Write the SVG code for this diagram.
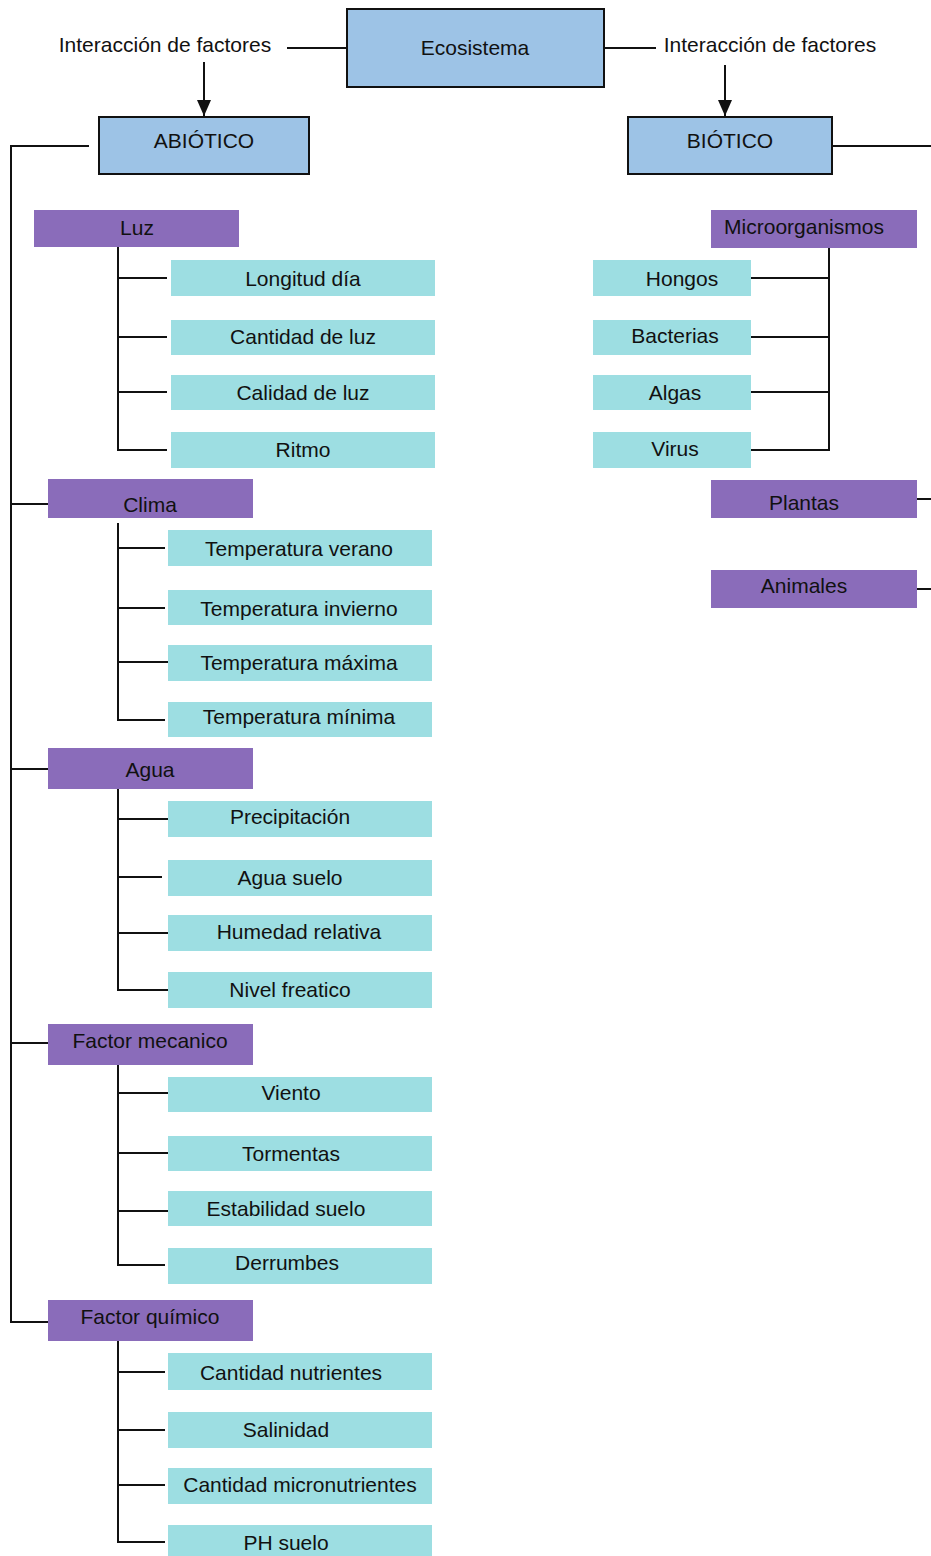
<svg xmlns="http://www.w3.org/2000/svg" width="931" height="1556" viewBox="0 0 931 1556">
<style>
text{font-family:"Liberation Sans",Arial,sans-serif;font-size:21px;fill:#111;text-anchor:middle;dominant-baseline:central}
.blue{fill:#9dc3e6;stroke:#111;stroke-width:2}
.pur{fill:#8a6cba}
.teal{fill:#9ddee2}
.ln{stroke:#111;stroke-width:2;fill:none}
</style>
<defs>
<marker id="arr" viewBox="0 0 16 14" refX="16" refY="7" markerWidth="16" markerHeight="14" markerUnits="userSpaceOnUse" orient="auto">
<path d="M0,0 L16,7 L0,14 Z" fill="#111"/>
</marker>
</defs>
<rect width="931" height="1556" fill="#fff"/>
<g id="connectors">
<path class="ln" d="M287,48 H347 M604,48 H656"/>
<path class="ln" d="M204,62 V116" marker-end="url(#arr)"/>
<path class="ln" d="M725,65 V116" marker-end="url(#arr)"/>
<path class="ln" d="M89,146 H11 V1322 H48 M11,504 H48 M11,769 H48 M11,1043 H48"/>
<path class="ln" d="M832,146 H931"/>
<path class="ln" d="M118,247 V450 H167 M118,278 H167 M118,337 H167 M118,392 H167"/>
<path class="ln" d="M118,523 V720 H165 M118,548 H165 M118,608 H165 M118,662 H168"/>
<path class="ln" d="M118,789 V990 H168 M118,819 H168 M118,877 H162 M118,933 H168"/>
<path class="ln" d="M118,1065 V1265 H165 M118,1093 H168 M118,1153 H169 M118,1211 H168"/>
<path class="ln" d="M118,1341 V1542 H165 M118,1372 H165 M118,1430 H165 M118,1485 H165"/>
<path class="ln" d="M829,248 V450 H751 M829,278 H751 M829,337 H751 M829,392 H751"/>
<path class="ln" d="M917,499 H931 M917,589 H931"/>
</g>
<g id="lbl-left"><text x="165" y="44">Interacción de factores</text></g>
<g id="lbl-right"><text x="770" y="44">Interacción de factores</text></g>
<g id="ecosistema"><rect class="blue" x="347" y="9" width="257" height="78"/><text x="475" y="47">Ecosistema</text></g>
<g id="abiotico"><rect class="blue" x="99" y="117" width="210" height="57"/><text x="204" y="140">ABIÓTICO</text></g>
<g id="biotico"><rect class="blue" x="628" y="117" width="204" height="57"/><text x="730" y="140">BIÓTICO</text></g>

<g id="luz"><rect class="pur" x="34" y="210" width="205" height="37"/><text x="137" y="227">Luz</text></g>
<g id="longitud"><rect class="teal" x="171" y="260" width="264" height="36"/><text x="303" y="278">Longitud día</text></g>
<g id="cantidad-luz"><rect class="teal" x="171" y="320" width="264" height="35"/><text x="303" y="336">Cantidad de luz</text></g>
<g id="calidad-luz"><rect class="teal" x="171" y="375" width="264" height="35"/><text x="303" y="392">Calidad de luz</text></g>
<g id="ritmo"><rect class="teal" x="171" y="432" width="264" height="36"/><text x="303" y="449">Ritmo</text></g>

<g id="clima"><rect class="pur" x="48" y="479" width="205" height="39"/><text x="150" y="504">Clima</text></g>
<g id="t-verano"><rect class="teal" x="168" y="530" width="264" height="36"/><text x="299" y="548">Temperatura verano</text></g>
<g id="t-invierno"><rect class="teal" x="168" y="590" width="264" height="35"/><text x="299" y="608">Temperatura invierno</text></g>
<g id="t-maxima"><rect class="teal" x="168" y="645" width="264" height="36"/><text x="299" y="662">Temperatura máxima</text></g>
<g id="t-minima"><rect class="teal" x="168" y="702" width="264" height="35"/><text x="299" y="716">Temperatura mínima</text></g>

<g id="agua"><rect class="pur" x="48" y="748" width="205" height="41"/><text x="150" y="769">Agua</text></g>
<g id="precipitacion"><rect class="teal" x="168" y="801" width="264" height="36"/><text x="290" y="816">Precipitación</text></g>
<g id="agua-suelo"><rect class="teal" x="168" y="860" width="264" height="36"/><text x="290" y="877">Agua suelo</text></g>
<g id="humedad"><rect class="teal" x="168" y="915" width="264" height="36"/><text x="299" y="931">Humedad relativa</text></g>
<g id="nivel"><rect class="teal" x="168" y="972" width="264" height="36"/><text x="290" y="989">Nivel freatico</text></g>

<g id="mecanico"><rect class="pur" x="48" y="1024" width="205" height="41"/><text x="150" y="1040">Factor mecanico</text></g>
<g id="viento"><rect class="teal" x="168" y="1077" width="264" height="35"/><text x="291" y="1092">Viento</text></g>
<g id="tormentas"><rect class="teal" x="168" y="1136" width="264" height="35"/><text x="291" y="1153">Tormentas</text></g>
<g id="estabilidad"><rect class="teal" x="168" y="1191" width="264" height="35"/><text x="286" y="1208">Estabilidad suelo</text></g>
<g id="derrumbes"><rect class="teal" x="168" y="1248" width="264" height="36"/><text x="287" y="1262">Derrumbes</text></g>

<g id="quimico"><rect class="pur" x="48" y="1300" width="205" height="41"/><text x="150" y="1316">Factor químico</text></g>
<g id="nutrientes"><rect class="teal" x="168" y="1353" width="264" height="37"/><text x="291" y="1372">Cantidad nutrientes</text></g>
<g id="salinidad"><rect class="teal" x="168" y="1412" width="264" height="36"/><text x="286" y="1429">Salinidad</text></g>
<g id="micronutrientes"><rect class="teal" x="168" y="1468" width="264" height="36"/><text x="300" y="1484">Cantidad micronutrientes</text></g>
<g id="ph"><rect class="teal" x="168" y="1525" width="264" height="31"/><text x="286" y="1542">PH suelo</text></g>

<g id="microorganismos"><rect class="pur" x="711" y="210" width="206" height="38"/><text x="804" y="226">Microorganismos</text></g>
<g id="hongos"><rect class="teal" x="593" y="260" width="158" height="36"/><text x="682" y="278">Hongos</text></g>
<g id="bacterias"><rect class="teal" x="593" y="320" width="158" height="35"/><text x="675" y="335">Bacterias</text></g>
<g id="algas"><rect class="teal" x="593" y="375" width="158" height="35"/><text x="675" y="392">Algas</text></g>
<g id="virus"><rect class="teal" x="593" y="432" width="158" height="36"/><text x="675" y="448">Virus</text></g>
<g id="plantas"><rect class="pur" x="711" y="480" width="206" height="38"/><text x="804" y="502">Plantas</text></g>
<g id="animales"><rect class="pur" x="711" y="570" width="206" height="38"/><text x="804" y="585">Animales</text></g>
</svg>
